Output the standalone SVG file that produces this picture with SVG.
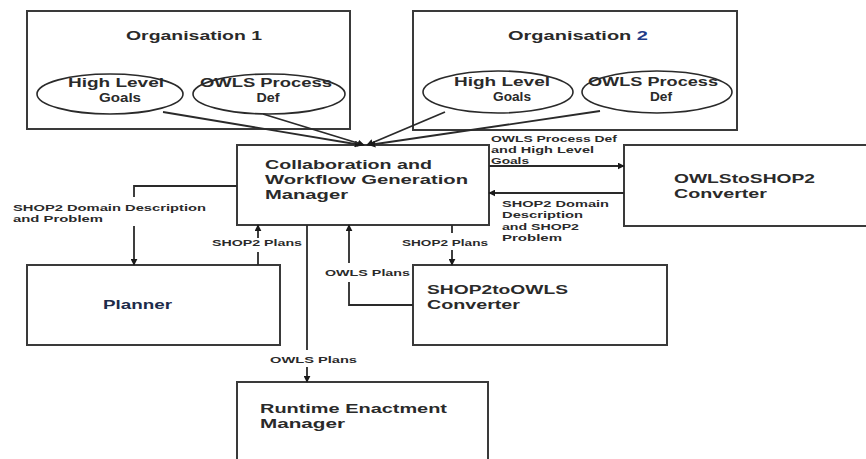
<svg xmlns="http://www.w3.org/2000/svg" width="866" height="459" viewBox="0 0 866 459">
<defs>
<style>
.box{fill:#fff;stroke:#3a3a3a;stroke-width:2}
.ell{fill:#fff;stroke:#2a2a2a;stroke-width:1.6}
.t{font-family:"Liberation Sans","Open Sans",sans-serif;font-weight:bold;fill:#2a2a2a}
.big{font-size:13px}
.mid{font-size:12.5px}
.sm{font-size:9.5px}
.ln{fill:none;stroke:#2a2a2a;stroke-width:1.8}
</style>
<marker id="ah" viewBox="0 0 10 10" refX="9" refY="5" markerWidth="7" markerHeight="7" markerUnits="userSpaceOnUse" orient="auto">
<path d="M0,0 L10,5 L0,10 Z" fill="#1a1a1a"/>
</marker>
</defs>
<rect width="866" height="459" fill="#fff"/>

<g id="org1">
<rect class="box" x="27" y="11" width="323" height="118"/>
<text class="t mid" x="126" y="40" textLength="136" lengthAdjust="spacingAndGlyphs">Organisation 1</text>
</g>
<g id="org1-goals">
<ellipse class="ell" cx="110" cy="94" rx="73" ry="20"/>
<text class="t mid" x="116" y="87" text-anchor="middle" textLength="96" lengthAdjust="spacingAndGlyphs">High Level</text>
<text class="t mid" x="120" y="102" text-anchor="middle" textLength="42" lengthAdjust="spacingAndGlyphs">Goals</text>
</g>
<g id="org1-owls">
<ellipse class="ell" cx="269" cy="94" rx="76" ry="20"/>
<text class="t mid" x="266" y="87" text-anchor="middle" textLength="132" lengthAdjust="spacingAndGlyphs">OWLS Process</text>
<text class="t mid" x="268" y="102" text-anchor="middle" textLength="23" lengthAdjust="spacingAndGlyphs">Def</text>
</g>

<g id="org2">
<rect class="box" x="413" y="11" width="324" height="119"/>
<text class="t mid" x="508" y="40" textLength="140" lengthAdjust="spacingAndGlyphs">Organisation <tspan fill="#1f3c88">2</tspan></text>
</g>
<g id="org2-goals">
<ellipse class="ell" cx="498" cy="92" rx="75" ry="21"/>
<text class="t mid" x="502" y="86" text-anchor="middle" textLength="96" lengthAdjust="spacingAndGlyphs">High Level</text>
<text class="t mid" x="512" y="101" text-anchor="middle" textLength="38" lengthAdjust="spacingAndGlyphs">Goals</text>
</g>
<g id="org2-owls">
<ellipse class="ell" cx="657" cy="92" rx="75" ry="21"/>
<text class="t mid" x="653" y="86" text-anchor="middle" textLength="130" lengthAdjust="spacingAndGlyphs">OWLS Process</text>
<text class="t mid" x="661" y="101" text-anchor="middle" textLength="22" lengthAdjust="spacingAndGlyphs">Def</text>
</g>

<g id="collab">
<rect class="box" x="237" y="145" width="252" height="80"/>
<text class="t big" x="265" y="169" textLength="167" lengthAdjust="spacingAndGlyphs">Collaboration and</text>
<text class="t big" x="265" y="184" textLength="203" lengthAdjust="spacingAndGlyphs">Workflow Generation</text>
<text class="t big" x="265" y="199" textLength="83" lengthAdjust="spacingAndGlyphs">Manager</text>
</g>

<g id="owls2shop">
<rect class="box" x="624" y="145" width="250" height="81"/>
<text class="t big" x="674" y="183" textLength="141" lengthAdjust="spacingAndGlyphs">OWLStoSHOP2</text>
<text class="t big" x="674" y="198" textLength="93" lengthAdjust="spacingAndGlyphs">Converter</text>
</g>

<g id="planner">
<rect class="box" x="27" y="265" width="253" height="80"/>
<text class="t big" x="103" y="309" textLength="69" lengthAdjust="spacingAndGlyphs" style="fill:#1c2b4a">Planner</text>
</g>

<g id="shop2owls">
<rect class="box" x="413" y="265" width="254" height="80"/>
<text class="t big" x="427" y="294" textLength="141" lengthAdjust="spacingAndGlyphs">SHOP2toOWLS</text>
<text class="t big" x="427" y="309" textLength="93" lengthAdjust="spacingAndGlyphs">Converter</text>
</g>

<g id="runtime">
<rect class="box" x="237" y="382" width="251" height="90"/>
<text class="t big" x="260" y="413" textLength="187" lengthAdjust="spacingAndGlyphs">Runtime Enactment</text>
<text class="t big" x="260" y="428" textLength="85" lengthAdjust="spacingAndGlyphs">Manager</text>
</g>

<g id="connectors">
<line class="ln" x1="163" y1="112" x2="361" y2="145" marker-end="url(#ah)"/>
<line class="ln" x1="263" y1="114" x2="364" y2="145" marker-end="url(#ah)"/>
<line class="ln" x1="445" y1="112" x2="367" y2="145" marker-end="url(#ah)"/>
<line class="ln" x1="600" y1="111" x2="369" y2="145" marker-end="url(#ah)"/>

<line class="ln" x1="489" y1="166" x2="624" y2="166" marker-end="url(#ah)"/>
<line class="ln" x1="624" y1="193" x2="489" y2="193" marker-end="url(#ah)"/>

<polyline class="ln" points="237,186 134,186 134,197"/>
<line class="ln" x1="134" y1="226" x2="134" y2="265" marker-end="url(#ah)"/>

<line class="ln" x1="258" y1="265" x2="258" y2="252"/>
<line class="ln" x1="258" y1="238" x2="258" y2="225" marker-end="url(#ah)"/>

<line class="ln" x1="307" y1="225" x2="307" y2="350"/>
<line class="ln" x1="307" y1="367" x2="307" y2="382" marker-end="url(#ah)"/>

<line class="ln" x1="452" y1="225" x2="452" y2="233"/>
<line class="ln" x1="452" y1="250" x2="452" y2="265" marker-end="url(#ah)"/>

<polyline class="ln" points="413,305 349,305 349,282"/>
<line class="ln" x1="349" y1="263" x2="349" y2="225" marker-end="url(#ah)"/>

<text class="t sm" x="491" y="142" textLength="126" lengthAdjust="spacingAndGlyphs">OWLS Process Def</text>
<text class="t sm" x="491" y="153" textLength="103" lengthAdjust="spacingAndGlyphs">and High Level</text>
<text class="t sm" x="491" y="164" textLength="38" lengthAdjust="spacingAndGlyphs">Goals</text>

<text class="t sm" x="502" y="207" textLength="107" lengthAdjust="spacingAndGlyphs">SHOP2 Domain</text>
<text class="t sm" x="502" y="218" textLength="81" lengthAdjust="spacingAndGlyphs">Description</text>
<text class="t sm" x="502" y="230" textLength="77" lengthAdjust="spacingAndGlyphs">and SHOP2</text>
<text class="t sm" x="502" y="241" textLength="60" lengthAdjust="spacingAndGlyphs">Problem</text>

<text class="t sm" x="13" y="211" textLength="193" lengthAdjust="spacingAndGlyphs">SHOP2 Domain Description</text>
<text class="t sm" x="13" y="222" textLength="90" lengthAdjust="spacingAndGlyphs">and Problem</text>

<text class="t sm" x="212" y="246" textLength="90" lengthAdjust="spacingAndGlyphs">SHOP2 Plans</text>
<text class="t sm" x="402" y="246" textLength="86" lengthAdjust="spacingAndGlyphs">SHOP2 Plans</text>
<text class="t sm" x="325" y="276" textLength="85" lengthAdjust="spacingAndGlyphs">OWLS Plans</text>
<text class="t sm" x="270" y="363" textLength="87" lengthAdjust="spacingAndGlyphs">OWLS Plans</text>
</g>
</svg>
